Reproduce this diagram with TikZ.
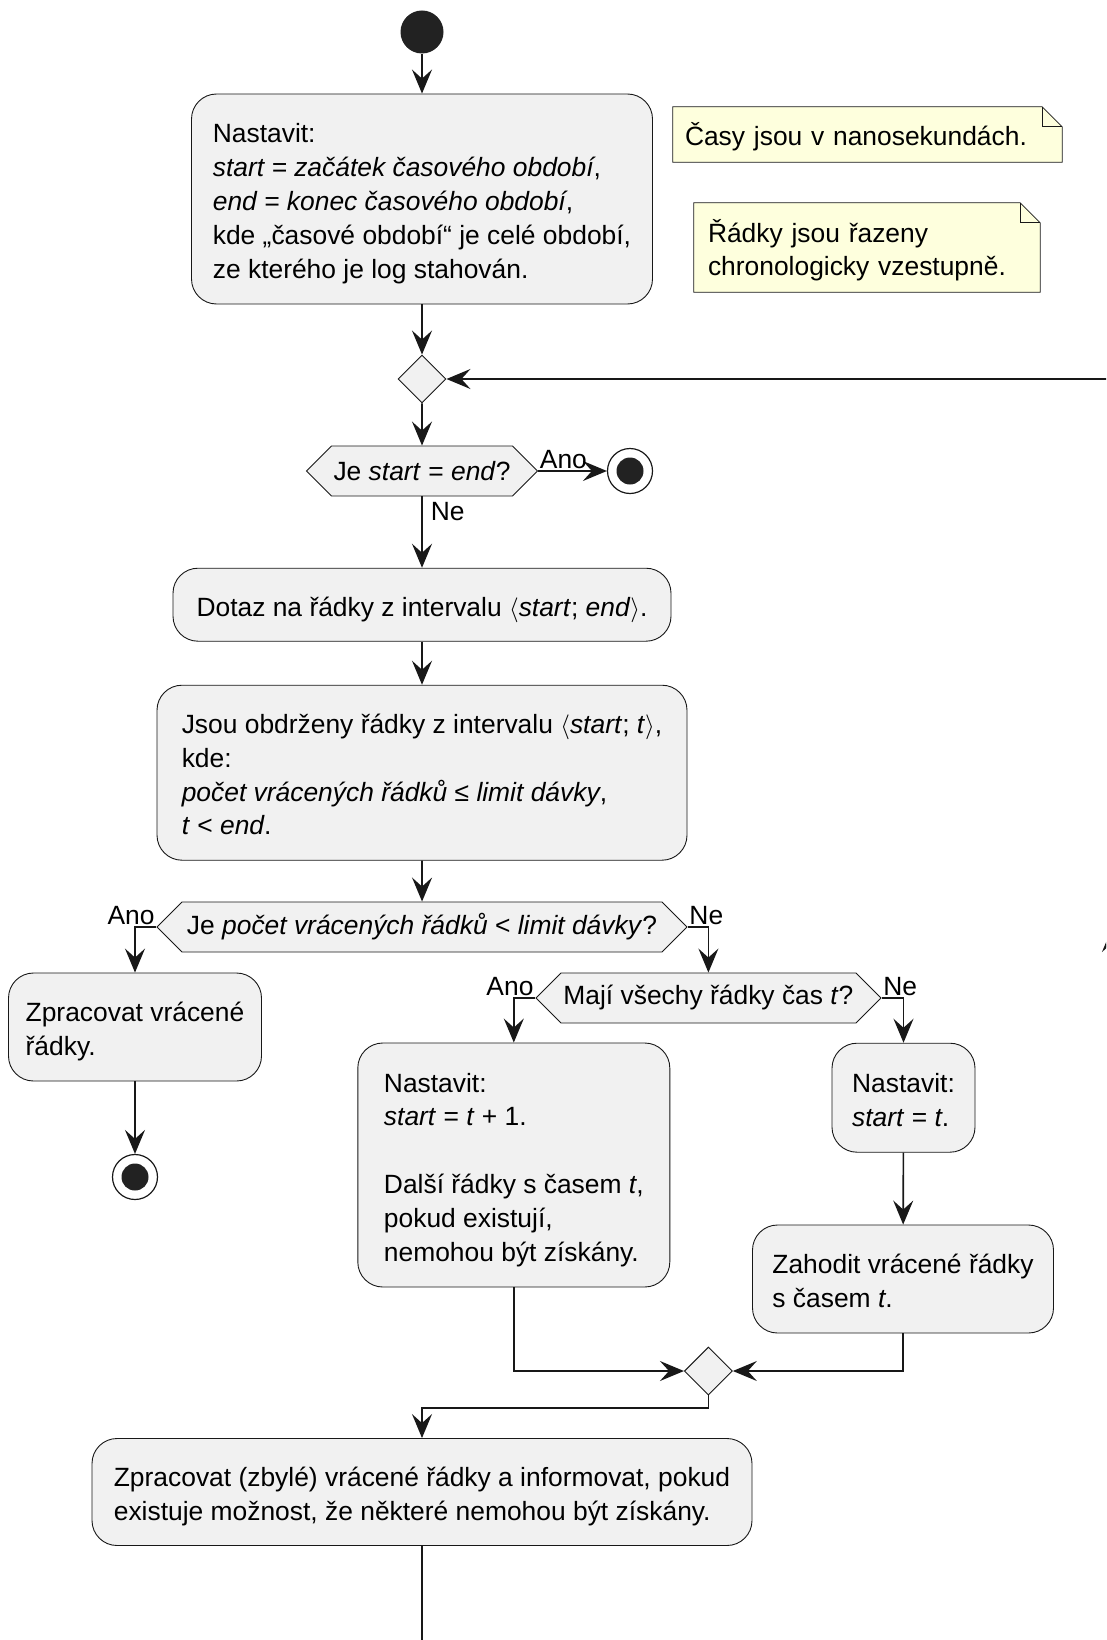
\documentclass[tikz,border=0pt]{standalone}
\usepackage{fontspec}
\setmainfont{Liberation Sans}
\usepackage{xcolor}
\usepackage{tikz}
\usetikzlibrary{arrows.meta, shapes.geometric, shapes.symbols, backgrounds}
\definecolor{umlgray}{HTML}{F1F1F1}
\definecolor{umlline}{HTML}{181818}
\definecolor{umlnote}{HTML}{FEFFDD}
\definecolor{umldot}{HTML}{222222}
\newcommand{\tstrut}{\rule{0pt}{30pt}}
\newcommand{\bstrut}{\rule[-7pt]{0pt}{0pt}}

\begin{document}
\begin{tikzpicture}[
    x=1pt, y=-1pt,
    font=\fontsize{26.4}{33.8}\selectfont,
    actbox/.style={rectangle, rounded corners=25pt, draw=umlline, fill=umlgray, line width=0.9pt,
                   align=left, inner sep=0pt},
    decbox/.style={signal, signal to=west and east, signal pointer angle=90, draw=umlline,
                   fill=umlgray, line width=0.9pt, minimum height=50pt, inner xsep=2pt, inner ysep=0pt},
    mergebox/.style={diamond, draw=umlline, fill=umlgray, line width=0.9pt, minimum width=48pt,
                     minimum height=48pt, inner sep=0pt},
    startdot/.style={circle, fill=umldot, minimum size=43pt, inner sep=0pt},
    stopdot/.style={circle, draw=umlline, fill=white, line width=1.2pt, minimum size=45pt, inner sep=0pt,
                    path picture={\fill[umldot] (path picture bounding box.center) circle (13.5pt);}},
    notebox/.style={align=left, inner ysep=0pt, execute at begin node=\tstrut, execute at end node=\bstrut},
    notefill/.style={draw=umlline, fill=umlnote, line width=0.8pt},
    flow/.style={-{Stealth[length=24pt, width=20pt, inset=9pt]}, line width=1.6pt, draw=umlline},
    lbl/.style={inner sep=1pt},
]
  \useasboundingbox (0,0) rectangle (1106,1640);
  \clip (0,0) rectangle (1106,1640);

  \node[startdot] (start) at (422,32) {};

  \node[actbox, minimum width=461pt, minimum height=210pt] (nastav) at (422,199)
    {\tstrut Nastavit:\\\textit{start = začátek časového období},\\\textit{end = konec časového období},\\
     kde „časové období“ je celé období,\\ze kterého je log stahován.\bstrut};

  % notes
  \node[notebox, text width=365pt, inner xsep=12pt, minimum height=55pt] (note1) at (867.5,134.5)
    {Časy jsou v nanosekundách.};
  \node[notebox, text width=318pt, inner xsep=14pt, minimum height=89pt] (note2) at (867,247.5)
    {Řádky jsou řazeny\\chronologicky vzestupně.};
  \begin{scope}[on background layer]
    \filldraw[notefill] (note1.south west) -- (note1.north west) -- ([xshift=-20pt]note1.north east)
      -- ([yshift=-20pt]note1.north east) -- (note1.south east) -- cycle;
    \draw[notefill, fill=none] ([xshift=-20pt]note1.north east) -- ([xshift=-20pt, yshift=-20pt]note1.north east)
      -- ([yshift=-20pt]note1.north east);
    \filldraw[notefill] (note2.south west) -- (note2.north west) -- ([xshift=-20pt]note2.north east)
      -- ([yshift=-20pt]note2.north east) -- (note2.south east) -- cycle;
    \draw[notefill, fill=none] ([xshift=-20pt]note2.north east) -- ([xshift=-20pt, yshift=-20pt]note2.north east)
      -- ([yshift=-20pt]note2.north east);
  \end{scope}

  \node[mergebox] (merge1) at (422,379) {};
  \node[decbox, minimum width=229pt] (dec1) at (422,471) {Je \textit{start} = \textit{end}?};
  \node[stopdot] (stop1) at (630,471) {};

  \node[actbox, minimum width=498pt, minimum height=73pt] (dotaz) at (422,604.7)
    {\tstrut Dotaz na řádky z intervalu $\langle$\textit{start}; \textit{end}$\rangle$.\bstrut};
  \node[actbox, minimum width=530pt, minimum height=175pt] (obdrz) at (422,772.7)
    {\tstrut Jsou obdrženy řádky z intervalu $\langle$\textit{start}; \textit{t}$\rangle$,\\kde:\\
     \textit{počet vrácených řádků ≤ limit dávky},\\\textit{t} < \textit{end}.\bstrut};

  \node[decbox, minimum width=530pt] (dec2) at (422,927)
    {Je \textit{počet vrácených řádků} < \textit{limit dávky}?};

  % left branch
  \node[actbox, minimum width=253pt, minimum height=108pt] (zprac) at (135,1027)
    {\tstrut Zpracovat vrácené\\řádky.\bstrut};
  \node[stopdot] (stop2) at (135,1177) {};

  % right branch
  \node[decbox, minimum width=345pt] (dec3) at (708.4,998) {Mají všechy řádky čas \textit{t}?};
  \node[actbox, minimum width=312pt, minimum height=244pt] (plus1) at (513.8,1165)
    {\tstrut Nastavit:\\\textit{start} = \textit{t} + 1.\\[33.8pt]Další řádky s časem \textit{t},\\
     pokud existují,\\nemohou být získány.\bstrut};
  \node[actbox, minimum width=143pt, minimum height=109pt] (nastt) at (903.5,1097.7)
    {\tstrut Nastavit:\\\textit{start} = \textit{t}.\bstrut};
  \node[actbox, minimum width=301pt, minimum height=108pt] (zahod) at (903,1279)
    {\tstrut Zahodit vrácené řádky\\s časem \textit{t}.\bstrut};
  \node[mergebox] (merge2) at (708.4,1371) {};

  \node[actbox, minimum width=660pt, minimum height=107pt] (fertig) at (422,1492)
    {\tstrut Zpracovat (zbylé) vrácené řádky a informovat, pokud\\
     existuje možnost, že některé nemohou být získány.\bstrut};

  \coordinate (loopbot) at (1112,1700);
  \coordinate (loopmid) at (1112,928);

  % connectors
  \draw[flow] (start) -- (nastav);
  \draw[flow] (nastav) -- (merge1);
  \draw[flow] (merge1) -- (dec1);
  \draw[flow] (dec1.east) -- node[lbl, pos=0, anchor=south west] {Ano} (stop1);
  \draw[flow] (dec1.south) -- node[lbl, pos=0, anchor=north west, xshift=7pt, yshift=-4pt] {Ne} (dotaz);
  \draw[flow] (dotaz) -- (obdrz);
  \draw[flow] (obdrz) -- (dec2);
  \draw[flow] (dec2.west) -| node[lbl, pos=0, anchor=south east] {Ano} (zprac.north);
  \draw[flow] (zprac) -- (stop2);
  \draw[flow] (dec2.east) -| node[lbl, pos=0, anchor=south west] {Ne} (dec3.north);
  \draw[flow] (dec3.west) -| node[lbl, pos=0, anchor=south east] {Ano} (plus1.north);
  \draw[flow] (dec3.east) -| node[lbl, pos=0, anchor=south west] {Ne} (nastt.north);
  \draw[flow] (nastt) -- (zahod);
  \draw[flow] (plus1.south) |- (merge2.west);
  \draw[flow] (zahod.south) |- (merge2.east);
  \draw[flow] (merge2.south) -- ++(0,12.5) -| (fertig.north);

  % loop back
  \draw[flow] (fertig.south) |- (loopbot) -- (loopmid);
  \draw[flow] (loopmid) |- (merge1.east);
\end{tikzpicture}
\end{document}
